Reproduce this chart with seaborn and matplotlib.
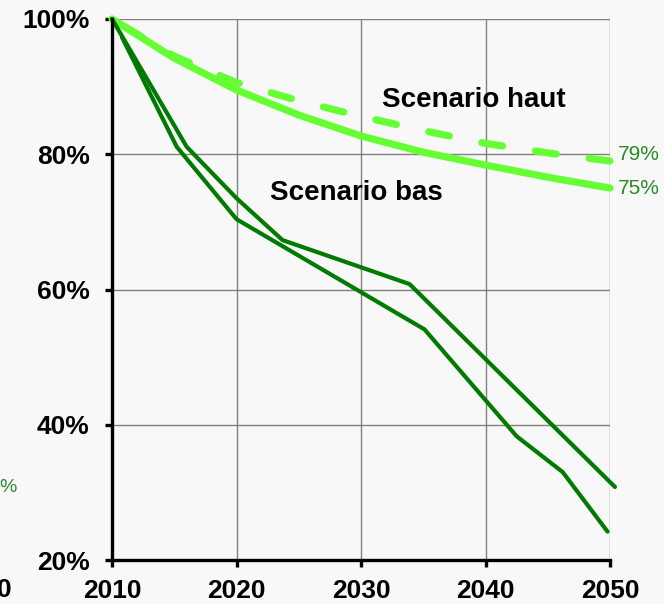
import matplotlib
matplotlib.use("Agg")
import matplotlib.pyplot as plt
import seaborn as sns
import pandas as pd

# data (year, % of 2010 level)
years_scen = [2010, 2015, 2020, 2025, 2030, 2035, 2040, 2045, 2050]
scen_bas = [100, 94.2, 89.5, 85.8, 82.7, 80.3, 78.4, 76.6, 75]
scen_haut = [100, 94.5, 90.6, 87.9, 85.6, 83.5, 81.6, 80.2, 79]

years_a = [2010, 2016, 2020, 2023.7, 2033.9, 2050.4]
traj_a = [100, 81.1, 73.5, 67.3, 60.8, 30.8]
years_b = [2010.8, 2015.2, 2020, 2035.1, 2042.5, 2046.2, 2049.8]
traj_b = [97.3, 81.1, 70.4, 54.1, 38.3, 33.0, 24.2]

yticks = [20, 40, 60, 80, 100]
xticks = [2010, 2020, 2030, 2040, 2050]

light = "#66ff33"
dark = "#007a00"
label_green = "#2a8a2a"
bg = "#f8f8f8"

sns.set_theme(style="whitegrid")
plt.rcParams["font.family"] = ["Liberation Sans", "DejaVu Sans"]
plt.rcParams["text.color"] = "black"

fig = plt.figure(figsize=(6.64, 6.04), dpi=100, facecolor=bg)
ax = fig.add_axes([112/664, 44/604, 498/664, 541/604])
ax.set_facecolor(bg)

df_bas = pd.DataFrame({"year": years_scen, "val": scen_bas})
df_haut = pd.DataFrame({"year": years_scen, "val": scen_haut})
df_a = pd.DataFrame({"year": years_a, "val": traj_a})
df_b = pd.DataFrame({"year": years_b, "val": traj_b})

sns.lineplot(data=df_bas, x="year", y="val", ax=ax, color=light, lw=5.2,
             solid_capstyle="round", clip_on=False, zorder=3)
sns.lineplot(data=df_haut, x="year", y="val", ax=ax, color=light, lw=5.2,
             linestyle=(5.6, (2.9, 4.6)), dash_capstyle="round", clip_on=False, zorder=3)
sns.lineplot(data=df_a, x="year", y="val", ax=ax, color=dark, lw=3.0,
             clip_on=False, zorder=4)
sns.lineplot(data=df_b, x="year", y="val", ax=ax, color=dark, lw=3.0,
             clip_on=False, zorder=4)

ax.set_xlim(2010, 2050)
ax.set_ylim(20, 100)
ax.set_xticks(xticks)
ax.set_xticklabels([str(x) for x in xticks])
ax.set_yticks(yticks)
ax.set_yticklabels([f"{y}%" for y in yticks])
ax.set_xlabel("")
ax.set_ylabel("")

ax.grid(True, color="#808080", lw=1.0)
for s in ["top", "right"]:
    ax.spines[s].set_visible(False)
for s in ["left", "bottom"]:
    ax.spines[s].set_visible(True)
    ax.spines[s].set_color("black")
    ax.spines[s].set_linewidth(2.4)
    ax.spines[s].set_zorder(5)

ax.tick_params(axis="both", direction="out", length=5, width=2.4, color="black",
               labelsize=19, labelcolor="black")
ax.tick_params(axis="y", pad=11, left=True)
ax.tick_params(axis="x", pad=9, bottom=True)
for lab in ax.get_xticklabels() + ax.get_yticklabels():
    lab.set_fontweight("bold")

# end labels and scenario names
ax.text(2050.6, 79.9, "79%", color=label_green, fontsize=15, va="center", ha="left")
ax.text(2050.6, 75.0, "75%", color=label_green, fontsize=15, va="center", ha="left")
ax.text(2031.7, 88.0, "Scenario haut", color="black", fontsize=20, fontweight="bold",
        va="center", ha="left")
ax.text(2022.7, 74.3, "Scenario bas", color="black", fontsize=20, fontweight="bold",
        va="center", ha="left")

# cropped leftovers from the neighbouring panel
fig.text(12/664, 1 - 590/604, "0", fontsize=19, fontweight="bold", ha="right", va="center")
fig.text(17/664, 1 - 487/604, "%", fontsize=14, color=label_green, ha="right", va="center")

fig.savefig("out.png", dpi=100, facecolor=bg)
